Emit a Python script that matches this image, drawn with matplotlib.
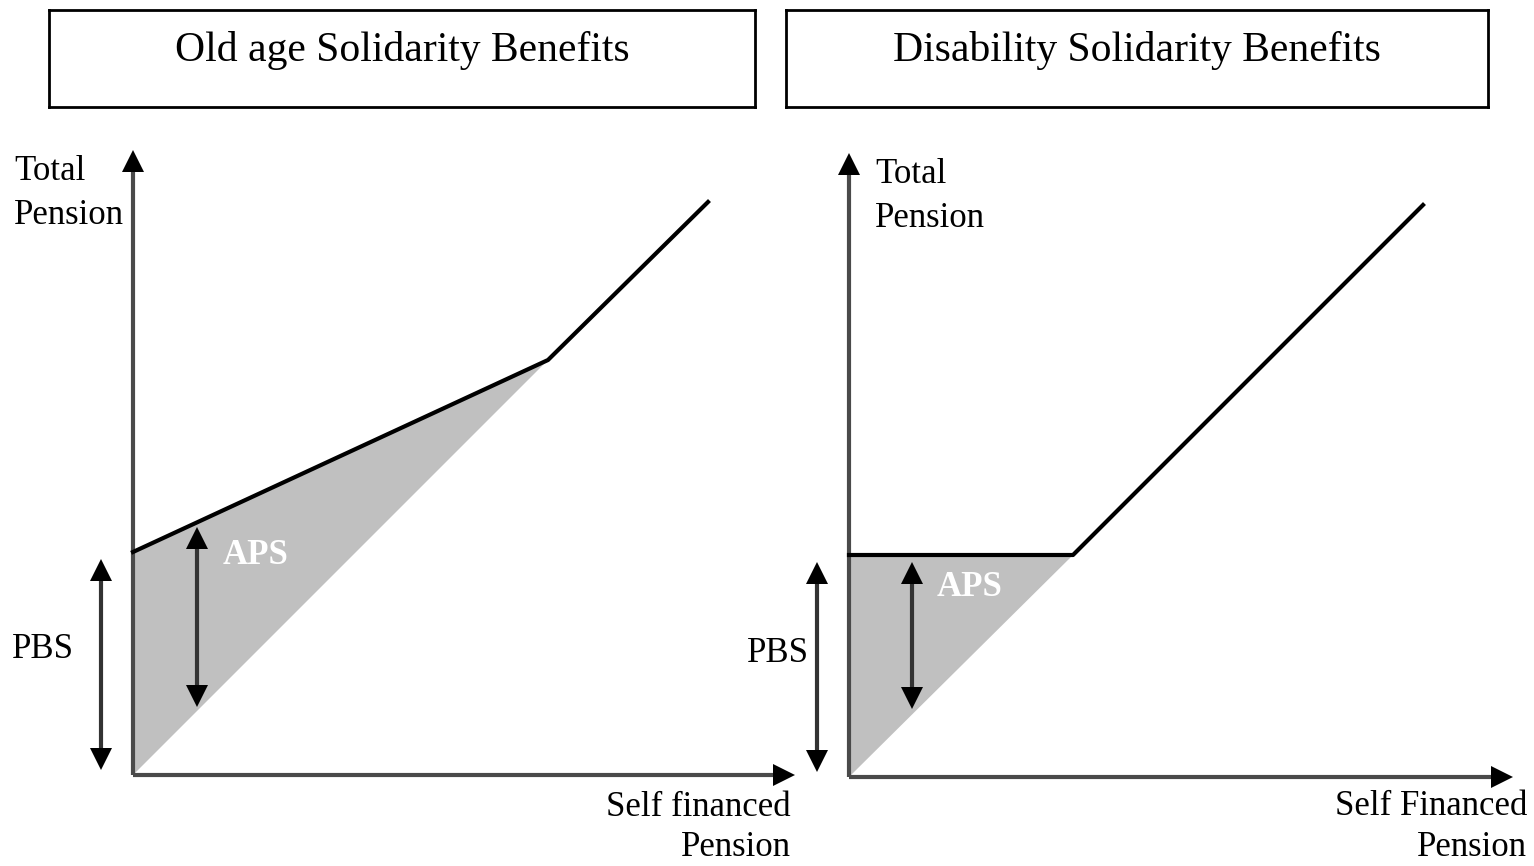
import matplotlib.pyplot as plt
from matplotlib.patches import Polygon

plt.rcParams['font.family'] = ['Liberation Serif', 'DejaVu Serif']

# schematic data (units: self financed pension vs total pension)
titles = ["Old age Solidarity Benefits", "Disability Solidarity Benefits"]
xlabels = ["Self financed\nPension", "Self Financed\nPension"]
ylabel = "Total\nPension"

# old age: PBS level, kink, end of line
old_x = [0.0, 4.15, 5.75]
old_y = [2.23, 4.15, 5.73]
old_aps_x = 0.64
old_aps_y = [0.63, 2.53]
old_pbs_x = -0.32
old_pbs_y = [0.0, 2.21]

# disability: flat at PBS up to kink, then 45 degrees
dis_x = [0.0, 2.24, 5.74]
dis_y = [2.22, 2.22, 5.72]
dis_aps_x = 0.63
dis_aps_y = [0.63, 2.20]
dis_pbs_x = -0.32
dis_pbs_y = [0.0, 2.20]

W, H = 1534, 866
fig = plt.figure(figsize=(W / 100, H / 100), dpi=100)

fill_col = '#c0c0c0'
axis_col = '#4a4a4a'
fs = 25
ms = 16          # arrow head size (points)
hh = ms / 72     # head half-height in data units (1 unit = 100 px)


def px_axes(left, right, top, bottom, x0, y0):
    ax = fig.add_axes([left / W, 1 - bottom / H, (right - left) / W, (bottom - top) / H])
    ax.set_xlim((left - x0) / 100, (right - x0) / 100)
    ax.set_ylim((y0 - bottom) / 100, (y0 - top) / 100)
    ax.axis('off')
    return ax


def double_arrow(ax, x, y, col, lw=3):
    ax.plot([x, x], [y[0] + hh, y[1] - hh], color=col, lw=lw, zorder=4, clip_on=False)
    ax.plot([x], [y[1] - hh * 0.7], marker='^', color='k', ms=ms, mew=0, zorder=5, clip_on=False)
    ax.plot([x], [y[0] + hh * 0.7], marker='v', color='k', ms=ms, mew=0, zorder=5, clip_on=False)


def panel(ax, xs, ys, ytop, xend, aps_x, aps_y, pbs_x, pbs_y, xlabel,
          aps_pos, pbs_pos, ylab_x, xlab_pos):
    # shaded area between curve and 45 degree line
    poly = [(0, 0), (xs[0], ys[0]), (xs[1], ys[1])]
    ax.add_patch(Polygon(poly, closed=True, facecolor=fill_col, edgecolor='none', zorder=1))
    # axes
    ax.plot([0, 0], [0, ytop - hh], color=axis_col, lw=3, solid_capstyle='butt',
            zorder=3, clip_on=False)
    ax.plot([0, xend - hh], [0, 0], color=axis_col, lw=3, solid_capstyle='butt',
            zorder=3, clip_on=False)
    ax.plot([0], [ytop - hh * 0.7], marker='^', color='k', ms=ms, mew=0, zorder=4, clip_on=False)
    ax.plot([xend - hh * 0.7], [0], marker='>', color='k', ms=ms, mew=0, zorder=4, clip_on=False)
    # benefit line
    ax.plot(xs, ys, color='k', lw=3, zorder=3)
    # arrows
    double_arrow(ax, aps_x, aps_y, '#333333')
    double_arrow(ax, pbs_x, pbs_y, '#333333')
    ax.text(aps_pos[0], aps_pos[1], 'APS', color='white', fontsize=fs, fontweight='bold',
            va='center', ha='left', zorder=6)
    ax.text(pbs_pos[0], pbs_pos[1], 'PBS', color='k', fontsize=fs, va='center', ha='left')
    ax.text(ylab_x, ytop - 0.1, ylabel, fontsize=fs, va='top', ha='left', linespacing=1.45)
    ax.text(xlab_pos[0], xlab_pos[1], xlabel, fontsize=fs, va='top', ha='right',
            linespacing=1.3, clip_on=False)


ax1 = px_axes(0, 767, 115, 866, 133, 775)
panel(ax1, old_x, old_y, 6.3, 6.67, old_aps_x, old_aps_y, old_pbs_x, old_pbs_y,
      xlabels[0], (0.9, 2.2), (-1.21, 1.25), -1.19, (6.58, -0.16))

ax2 = px_axes(767, 1534, 115, 866, 849, 777)
panel(ax2, dis_x, dis_y, 6.29, 6.69, dis_aps_x, dis_aps_y, dis_pbs_x, dis_pbs_y,
      xlabels[1], (0.88, 1.89), (-1.02, 1.23), 0.26, (6.78, -0.13))

# title boxes
for (l, r), t in zip([(49, 755), (786, 1488)], titles):
    tax = fig.add_axes([l / W, 1 - 107 / H, (r - l) / W, 97 / H])
    tax.set_xticks([])
    tax.set_yticks([])
    for s in tax.spines.values():
        s.set_linewidth(2)
    tax.text(0.5, 0.58, t, fontsize=30, ha='center', va='center', transform=tax.transAxes)

fig.savefig('out.png', dpi=100)
